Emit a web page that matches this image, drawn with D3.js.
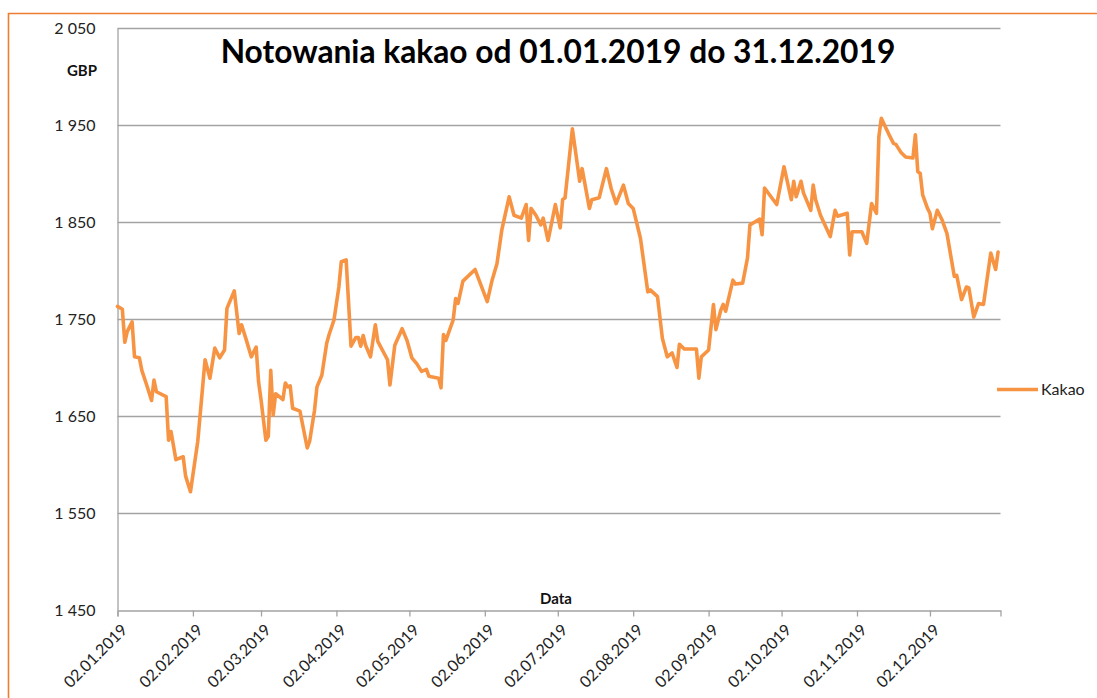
<!DOCTYPE html>
<html><head><meta charset="utf-8">
<script src="https://cdn.jsdelivr.net/npm/d3@7"></script>
<style>
html,body{margin:0;padding:0;background:#fff;}
svg{display:block;font-family:Lato,"Open Sans",sans-serif;}
</style></head>
<body>
<svg id="chart" width="1097" height="698"></svg>
<script>
const titleText = "Notowania kakao od 01.01.2019 do 31.12.2019";
const seriesName = "Kakao";
const yUnit = "GBP";
const xTitle = "Data";

const dates = [
"2019-01-02","2019-01-04","2019-01-05","2019-01-06","2019-01-08","2019-01-09","2019-01-11","2019-01-12","2019-01-14","2019-01-16",
"2019-01-17","2019-01-18","2019-01-22","2019-01-23","2019-01-24","2019-01-26","2019-01-29","2019-01-30","2019-02-01","2019-02-04",
"2019-02-07","2019-02-09","2019-02-11","2019-02-13","2019-02-15","2019-02-16","2019-02-19","2019-02-21","2019-02-22","2019-02-24",
"2019-02-26","2019-02-28","2019-03-01","2019-03-02","2019-03-04","2019-03-05","2019-03-06","2019-03-07","2019-03-08","2019-03-11",
"2019-03-12","2019-03-13","2019-03-14","2019-03-15","2019-03-18","2019-03-21","2019-03-22","2019-03-24","2019-03-25","2019-03-27",
"2019-03-29","2019-03-30","2019-04-01","2019-04-03","2019-04-04","2019-04-06","2019-04-08","2019-04-10","2019-04-11","2019-04-12",
"2019-04-13","2019-04-14","2019-04-16","2019-04-18","2019-04-19","2019-04-23","2019-04-24","2019-04-26","2019-04-29","2019-05-01",
"2019-05-03","2019-05-05","2019-05-07","2019-05-09","2019-05-10","2019-05-14","2019-05-15","2019-05-16","2019-05-17","2019-05-20",
"2019-05-21","2019-05-22","2019-05-24","2019-05-29","2019-06-03","2019-06-05","2019-06-07","2019-06-09","2019-06-12","2019-06-14",
"2019-06-17","2019-06-19","2019-06-20","2019-06-21","2019-06-23","2019-06-25","2019-06-26","2019-06-28","2019-07-01","2019-07-03",
"2019-07-04","2019-07-05","2019-07-08","2019-07-11","2019-07-12","2019-07-15","2019-07-16","2019-07-19","2019-07-22","2019-07-24",
"2019-07-26","2019-07-29","2019-07-31","2019-08-02","2019-08-05","2019-08-08","2019-08-09","2019-08-12","2019-08-14","2019-08-16",
"2019-08-18","2019-08-20","2019-08-21","2019-08-23","2019-08-28","2019-08-29","2019-08-30","2019-09-02","2019-09-04","2019-09-05",
"2019-09-07","2019-09-08","2019-09-09","2019-09-12","2019-09-13","2019-09-16","2019-09-18","2019-09-19","2019-09-21","2019-09-23",
"2019-09-24","2019-09-25","2019-09-30","2019-10-03","2019-10-06","2019-10-07","2019-10-08","2019-10-10","2019-10-11","2019-10-14",
"2019-10-15","2019-10-16","2019-10-18","2019-10-22","2019-10-24","2019-10-25","2019-10-29","2019-10-30","2019-10-31","2019-11-04",
"2019-11-06","2019-11-08","2019-11-10","2019-11-11","2019-11-12","2019-11-15","2019-11-17","2019-11-18","2019-11-20","2019-11-22",
"2019-11-25","2019-11-26","2019-11-27","2019-11-28","2019-11-29","2019-12-01","2019-12-02","2019-12-03","2019-12-05","2019-12-07",
"2019-12-09","2019-12-12","2019-12-13","2019-12-15","2019-12-17","2019-12-18","2019-12-20","2019-12-22","2019-12-24","2019-12-27",
"2019-12-29","2019-12-30"
];
const prices = [
1763,1760,1726,1737,1747,1711,1710,1697,1682,1666,
1687,1675,1670,1625,1634,1605,1608,1588,1572,1624,
1708,1689,1720,1710,1718,1761,1779,1735,1744,1728,
1711,1721,1685,1667,1625,1629,1697,1651,1673,1667,
1684,1680,1681,1658,1655,1617,1624,1656,1680,1692,
1725,1734,1749,1783,1809,1811,1722,1731,1731,1722,
1733,1723,1711,1744,1727,1708,1682,1723,1740,1728,
1710,1704,1696,1698,1691,1689,1679,1734,1728,1749,
1771,1766,1789,1801,1768,1790,1807,1842,1876,1857,
1854,1868,1831,1864,1857,1847,1854,1831,1868,1844,
1873,1875,1946,1892,1905,1864,1873,1875,1905,1884,
1869,1888,1869,1864,1833,1778,1780,1773,1730,1711,
1715,1700,1724,1719,1719,1689,1711,1718,1765,1739,
1759,1765,1758,1790,1786,1787,1813,1847,1850,1853,
1837,1885,1868,1907,1873,1892,1876,1892,1880,1862,
1888,1873,1857,1835,1862,1856,1859,1816,1840,1840,
1828,1869,1859,1938,1957,1941,1931,1930,1922,1917,
1916,1940,1902,1900,1878,1864,1859,1843,1862,1852,
1838,1794,1795,1770,1783,1782,1752,1766,1765,1818,
1801,1819
];
const xTickLabels = ["02.01.2019","02.02.2019","02.03.2019","02.04.2019","02.05.2019","02.06.2019",
"02.07.2019","02.08.2019","02.09.2019","02.10.2019","02.11.2019","02.12.2019"];
const yTicks = [1450,1550,1650,1750,1850,1950,2050];
const xDomain = ["2019-01-02","2019-12-31"];

const parseISO = d3.timeParse("%Y-%m-%d");
const parseTick = d3.timeParse("%d.%m.%Y");
const data = dates.map((d,i)=>({date:parseISO(d), value:prices[i]}));

const svg = d3.select("#chart");
const orange = "#ED7D31";
const lineColor = "#F79443";
const gridColor = "#A3A3A3";

// outer frame (top and left edges)
svg.append("path").attr("d","M8.5,698 V13.5 H1097").attr("fill","none")
  .attr("stroke",orange).attr("stroke-width",1.6);

const x = d3.scaleTime().domain(xDomain.map(parseISO)).range([117.5, 1000.5]);
const y = d3.scaleLinear().domain([1450,2050]).range([610, 28]);

// gridlines
svg.append("g").selectAll("line").data(yTicks.filter(v=>v>1450)).join("line")
  .attr("x1",117.5).attr("x2",1000.5)
  .attr("y1",d=>Math.round(y(d))+0.5).attr("y2",d=>Math.round(y(d))+0.5)
  .attr("stroke",gridColor).attr("stroke-width",1.3);

// y axis labels
const yAxis = d3.axisLeft(y).tickValues(yTicks).tickSize(0).tickPadding(22)
  .tickFormat(d=>d3.format(",")(d).replace(",", " "));
const gy = svg.append("g").attr("transform","translate(117.5,0)").call(yAxis);
gy.select(".domain").attr("stroke",gridColor).attr("stroke-width",1.3);
gy.selectAll("text").attr("font-family","Lato").attr("font-size",16).attr("fill","#222");

// x axis
const xAxis = d3.axisBottom(x).tickValues(xTickLabels.map(parseTick)).tickSize(6)
  .tickFormat(d3.timeFormat("%d.%m.%Y"));
const gx = svg.append("g").attr("transform","translate(0,610.5)").call(xAxis);
gx.select(".domain").attr("stroke",gridColor).attr("stroke-width",1.3);
gx.selectAll(".tick line").attr("stroke",gridColor).attr("stroke-width",1.3);
gx.selectAll("text").attr("font-family","Lato").attr("font-size",16).attr("fill","#222")
  .attr("text-anchor","end").attr("dx",0).attr("dy",0)
  .attr("transform","translate(4,14) rotate(-45)");

// line
svg.append("path").datum(data)
  .attr("d", d3.line().x(d=>x(d.date)).y(d=>y(d.value)))
  .attr("fill","none").attr("stroke",lineColor).attr("stroke-width",3.6)
  .attr("stroke-linejoin","round").attr("stroke-linecap","round");

// title
const t = svg.append("text").attr("x",558).attr("y",63).attr("text-anchor","middle")
  .attr("font-family","Lato").attr("font-weight","bold").attr("font-size",30)
  .attr("fill","#000").text(titleText);
const tw = t.node().getComputedTextLength();
t.attr("font-size", 30*675/tw);

// unit label
svg.append("text").attr("x",97).attr("y",76).attr("text-anchor","end")
  .attr("font-family","Lato").attr("font-weight","bold").attr("font-size",15)
  .attr("fill","#111").text(yUnit);

// x title
svg.append("text").attr("x",556).attr("y",604).attr("text-anchor","middle")
  .attr("font-family","Lato").attr("font-weight","bold").attr("font-size",15)
  .attr("fill","#111").text(xTitle);

// legend
svg.append("line").attr("x1",997).attr("x2",1038).attr("y1",389.5).attr("y2",389.5)
  .attr("stroke",lineColor).attr("stroke-width",3.6);
svg.append("text").attr("x",1041).attr("y",395).attr("font-family","Lato")
  .attr("font-size",16).attr("fill","#222").text(seriesName);
</script>
</body></html>
